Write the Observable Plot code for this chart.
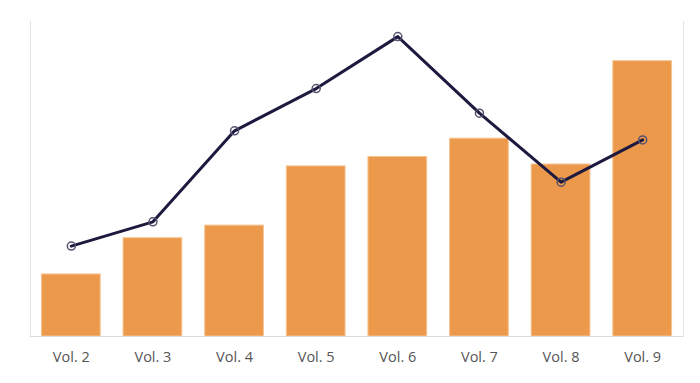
<!DOCTYPE html>
<html>
<head>
<meta charset="utf-8">
<script src="https://cdn.jsdelivr.net/npm/d3@7"></script>
<script src="https://cdn.jsdelivr.net/npm/@observablehq/plot@0.6"></script>
<style>
  html, body { margin: 0; padding: 0; background: #fff; }
  #chart svg { display: block; }
</style>
</head>
<body>
<div id="chart"></div>
<script>
const categories = ["Vol. 2", "Vol. 3", "Vol. 4", "Vol. 5", "Vol. 6", "Vol. 7", "Vol. 8", "Vol. 9"];
const barValues = [19.7, 31.2, 35.2, 54.0, 57.0, 62.8, 54.6, 87.4];
const lineValues = [28.7, 36.4, 65.3, 78.7, 95.2, 70.9, 49.0, 62.4];

const data = categories.map((c, i) => ({cat: c, bar: barValues[i], line: lineValues[i]}));

const chart = Plot.plot({
  width: 700,
  height: 383,
  marginLeft: 30,
  marginRight: 17,
  marginTop: 21,
  marginBottom: 47,
  style: {fontFamily: "'Open Sans', sans-serif", fontSize: "14px", color: "#555", background: "#fff"},
  x: {domain: categories, paddingInner: 0.28, paddingOuter: 0.14, round: false, label: null},
  y: {domain: [0, 100], axis: null},
  marks: [
    Plot.frame({anchor: "left", stroke: "#e3e3e3"}),
    Plot.frame({anchor: "right", stroke: "#e3e3e3"}),
    Plot.barY(data, {x: "cat", y: "bar", fill: "#ec994b", stroke: "#f5c594", strokeWidth: 1}),
    Plot.ruleY([0], {stroke: "#dcdcdc"}),
    Plot.axisX({tickSize: 0, tickPadding: 15, fontSize: 14.5, fill: "#555", label: null}),
    Plot.line(data, {x: "cat", y: "line", stroke: "#1c1a3f", strokeWidth: 3}),
    Plot.dot(data, {x: "cat", y: "line", r: 4, stroke: "#55536f", strokeWidth: 1.5, fill: "none"})
  ]
});
document.getElementById("chart").appendChild(chart);
</script>
</body>
</html>
